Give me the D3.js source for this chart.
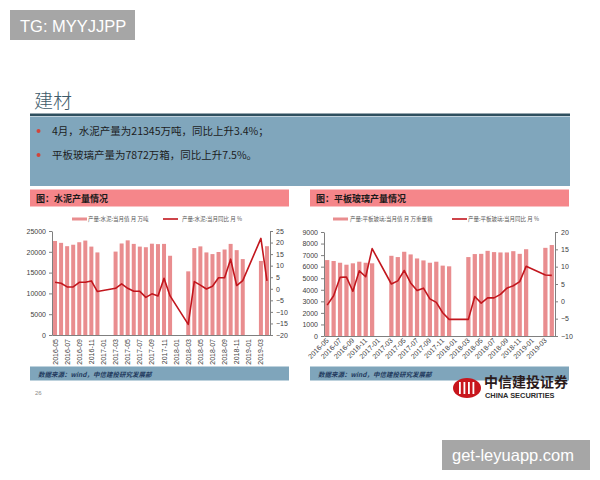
<!DOCTYPE html>
<html>
<head>
<meta charset="utf-8">
<script src="https://cdn.jsdelivr.net/npm/d3@7"></script>
<style>
  body { margin: 0; background: #fff; }
  text { font-family: "Noto Sans CJK SC", "Noto Sans", sans-serif; }
  .num { font-family: "Liberation Sans", Arial, sans-serif; }
</style>
</head>
<body>
<script>
// ---------------------------------------------------------------
//  DATA
// ---------------------------------------------------------------
var months = [
  "2016-05","2016-06","2016-07","2016-08","2016-09","2016-10","2016-11","2016-12",
  "2017-01","2017-02","2017-03","2017-04","2017-05","2017-06","2017-07","2017-08",
  "2017-09","2017-10","2017-11","2017-12","2018-01","2018-02","2018-03","2018-04",
  "2018-05","2018-06","2018-07","2018-08","2018-09","2018-10","2018-11","2018-12",
  "2019-01","2019-02","2019-03","2019-04"
];
// every second month is labelled
var monthTicks = months.filter(function(d, i) { return i % 2 === 0; });

// cement: monthly output (万吨) and yoy (%)
var cementOutput = [22600, 22150, 21350, 21700, 22300, 22700, 21250, 19850,
  null, null, 20050, 22000, 22750, 21900, 21250, 21100, 21950, 21850, 21900, 19050,
  null, null, 15300, 20900, 21300, 19850, 19450, 19950, 20550, 21900, 20400, 18250,
  null, null, 17800, 21345];
var cementYoy = [2.8, 2.4, 0.8, 0.8, 2.8, 2.8, 3.4, -1.2,
  null, null, 0.2, 2.1, 0.2, -1.1, -1.1, -3.7, -2.2, -3.1, 4.5, -3.1,
  null, null, -15.4, 3.1, 1.6, -0.1, 1.1, 4.8, 4.8, 12.8, 1.4, 3.5,
  null, null, 21.8, 3.4];

// flat glass: monthly output (万重量箱) and yoy (%)
var glassOutput = [6570, 6490, 6340, 6170, 6290, 6430, 6340, 6290,
  null, null, 6940, 6830, 7290, 7060, 6710, 6540, 6340, 6430, 6090, 6030,
  null, null, 6830, 7090, 7110, 7370, 7260, 7230, 7230, 7340, 7110, 7510,
  null, null, 7630, 7872];
var glassYoy = [-1.1, 1.6, 6.9, 7.0, 2.9, 8.8, 7.1, 15.2,
  null, null, 5.0, 5.9, 8.9, 5.3, 3.1, 3.8, 0.7, -0.3, -3.3, -5.2,
  null, null, -5.2, 1.4, -0.5, 1.0, 1.0, 2.0, 3.8, 4.5, 5.7, 10.1,
  null, null, 7.6, 7.5];

var cementLeftTicks = [0, 5000, 10000, 15000, 20000, 25000];
var cementRightTicks = [-20, -15, -10, -5, 0, 5, 10, 15, 20, 25];
var glassLeftTicks = [0, 1000, 2000, 3000, 4000, 5000, 6000, 7000, 8000, 9000];
var glassRightTicks = [-10, -5, 0, 5, 10, 15, 20];

var BAR = "#e98d8f", LINE = "#c2161d";

// ---------------------------------------------------------------
//  PAGE
// ---------------------------------------------------------------
var svg = d3.select("body").append("svg")
  .attr("width", 600).attr("height", 480);

svg.append("rect").attr("width", 600).attr("height", 480).attr("fill", "#fff");

// section title
svg.append("text").text("建材")
  .attr("x", 34).attr("y", 108)
  .attr("font-size", "19px").attr("font-weight", 300).attr("fill", "#3d5a69");
svg.append("rect").attr("x", 30).attr("y", 113.5).attr("width", 540).attr("height", 2.5)
  .attr("fill", "#2e4f5e");
svg.append("rect").attr("x", 30).attr("y", 116.5).attr("width", 540).attr("height", 69.5)
  .attr("fill", "#80a6bc");

var bullets = ["4月，水泥产量为21345万吨，同比上升3.4%；", "平板玻璃产量为7872万箱，同比上升7.5%。"];
bullets.forEach(function(t, i) {
  svg.append("circle").attr("cx", 38.5).attr("cy", 131 + i * 24).attr("r", 2)
    .attr("fill", "#d2453a");
  svg.append("text").text(t)
    .attr("x", 52).attr("y", 135 + i * 24)
    .attr("font-size", "10.5px").attr("fill", "#1c1c1c");
});

// chart header bars
[[30, "图：水泥产量情况"], [310, "图：平板玻璃产量情况"]].forEach(function(h) {
  svg.append("rect").attr("x", h[0]).attr("y", 189.5).attr("width", 259).attr("height", 17)
    .attr("fill", "#f5868a");
  svg.append("text").text(h[1])
    .attr("x", h[0] + 6).attr("y", 201.5)
    .attr("font-size", "9px").attr("font-weight", "bold").attr("fill", "#1a1a1a");
  // source bars
  svg.append("rect").attr("x", h[0]).attr("y", 366.5).attr("width", 259).attr("height", 14)
    .attr("fill", "#7fa5bb");
  svg.append("text").text("数据来源：wind，中信建投研究发展部")
    .attr("x", h[0] + 8).attr("y", 376.5)
    .attr("font-size", "6.5px").attr("font-style", "italic").attr("font-weight", "bold")
    .attr("fill", "#1f3a5e");
});

// ---------------------------------------------------------------
//  CHARTS
// ---------------------------------------------------------------
drawChart({
  x0: 52, x1: 270, y0: 231, y1: 335,
  bars: cementOutput, line: cementYoy,
  leftDomain: [0, 25000], leftTicks: cementLeftTicks,
  rightDomain: [-20, 25], rightTicks: cementRightTicks,
  rotate: -90,
  legend: { y: 219, bx: 72, tx: 88, lx: 163, ltx: 182,
    barText: "产量:水泥:当月值  月  万吨", lineText: "产量:水泥:当月同比  月  %" }
});

drawChart({
  x0: 324, x1: 555, y0: 232, y1: 336,
  bars: glassOutput, line: glassYoy,
  leftDomain: [0, 9000], leftTicks: glassLeftTicks,
  rightDomain: [-10, 20], rightTicks: glassRightTicks,
  rotate: -45,
  legend: { y: 219, bx: 333, tx: 350, lx: 452, ltx: 468,
    barText: "产量:平板玻璃:当月值  月  万重量箱", lineText: "产量:平板玻璃:当月同比  月  %" }
});

function drawChart(c) {
  var x = d3.scaleBand().domain(months).range([c.x0, c.x1])
    .paddingInner(0.34).paddingOuter(0.17);
  var yL = d3.scaleLinear().domain(c.leftDomain).range([c.y1, c.y0]);
  var yR = d3.scaleLinear().domain(c.rightDomain).range([c.y1, c.y0]);

  var rows = months.map(function(m, i) { return { m: m, v: c.bars[i], r: c.line[i] }; });

  // bars
  svg.append("g").selectAll("rect")
    .data(rows.filter(function(d) { return d.v != null; }))
    .join("rect")
      .attr("x", function(d) { return x(d.m); })
      .attr("y", function(d) { return yL(d.v); })
      .attr("width", x.bandwidth())
      .attr("height", function(d) { return yL(0) - yL(d.v); })
      .attr("fill", BAR);

  // yoy line (joins across the Jan/Feb gaps)
  var line = d3.line()
    .x(function(d) { return x(d.m) + x.bandwidth() / 2; })
    .y(function(d) { return yR(d.r); });
  svg.append("path")
    .datum(rows.filter(function(d) { return d.r != null; }))
    .attr("d", line)
    .attr("fill", "none").attr("stroke", LINE).attr("stroke-width", 1.6)
    .attr("stroke-linejoin", "round");

  // left axis
  var gl = svg.append("g").attr("transform", "translate(" + c.x0 + ",0)")
    .call(d3.axisLeft(yL).tickValues(c.leftTicks).tickFormat(d3.format("d"))
      .tickSize(3).tickSizeOuter(0).tickPadding(3));
  // right axis
  var gr = svg.append("g").attr("transform", "translate(" + c.x1 + ",0)")
    .call(d3.axisRight(yR).tickValues(c.rightTicks).tickFormat(d3.format("d"))
      .tickSize(3).tickSizeOuter(0).tickPadding(3));
  // x axis
  var gx = svg.append("g").attr("transform", "translate(0," + c.y1 + ")")
    .call(d3.axisBottom(x).tickValues(monthTicks).tickSize(0).tickSizeOuter(0));

  [gl, gr, gx].forEach(function(g) {
    g.select(".domain").attr("stroke", "#7f7f7f");
    g.selectAll(".tick line").attr("stroke", "#7f7f7f");
    g.selectAll("text").attr("class", "num").attr("font-size", "7px").attr("fill", "#404040");
  });

  gx.selectAll("text")
    .attr("text-anchor", "end")
    .attr("dy", null).attr("y", 0)
    .attr("transform", c.rotate === -90
      ? "translate(2.5,4) rotate(-90)"
      : "translate(2,5) rotate(-45)");

  // legend
  var L = c.legend;
  svg.append("rect").attr("x", L.bx).attr("y", L.y - 1.5).attr("width", 15).attr("height", 3)
    .attr("fill", BAR);
  svg.append("text").text(L.barText).attr("x", L.tx).attr("y", L.y + 2)
    .attr("font-size", "5.5px").attr("fill", "#595959");
  svg.append("line").attr("x1", L.lx).attr("x2", L.lx + 15).attr("y1", L.y).attr("y2", L.y)
    .attr("stroke", LINE).attr("stroke-width", 1.6);
  svg.append("text").text(L.lineText).attr("x", L.ltx).attr("y", L.y + 2)
    .attr("font-size", "5.5px").attr("fill", "#595959");
}

// ---------------------------------------------------------------
//  FOOTER, LOGO, WATERMARKS
// ---------------------------------------------------------------
svg.append("text").text("26").attr("class", "num")
  .attr("x", 35).attr("y", 395).attr("font-size", "6px").attr("fill", "#8a8a8a");

var logo = svg.append("g").attr("transform", "translate(467,388)");
logo.append("ellipse").attr("rx", 14).attr("ry", 10).attr("fill", "#c8161d");
[-8, -3.5, 1, 5.5].forEach(function(dx) {
  logo.append("rect").attr("x", dx).attr("y", -6).attr("width", 1.8).attr("height", 12)
    .attr("fill", "#fff");
});
svg.append("text").text("中信建投证券")
  .attr("x", 484).attr("y", 386.5).attr("font-size", "14px").attr("font-weight", "bold")
  .attr("fill", "#2b1b1b");
svg.append("text").text("CHINA SECURITIES").attr("class", "num")
  .attr("x", 485).attr("y", 397.5).attr("font-size", "7.4px").attr("font-weight", "bold")
  .attr("fill", "#2b2b2b");

svg.append("rect").attr("x", 10).attr("y", 10).attr("width", 125).attr("height", 30)
  .attr("fill", "#a6a6a6");
svg.append("text").text("TG: MYYJJPP").attr("class", "num")
  .attr("x", 20).attr("y", 31.5).attr("font-size", "16.5px").attr("fill", "#fff");

svg.append("rect").attr("x", 442).attr("y", 440).attr("width", 148).attr("height", 30)
  .attr("fill", "#a6a6a6");
svg.append("text").text("get-leyuapp.com").attr("class", "num")
  .attr("x", 452).attr("y", 461).attr("font-size", "16.5px").attr("fill", "#fff");
</script>
</body>
</html>
